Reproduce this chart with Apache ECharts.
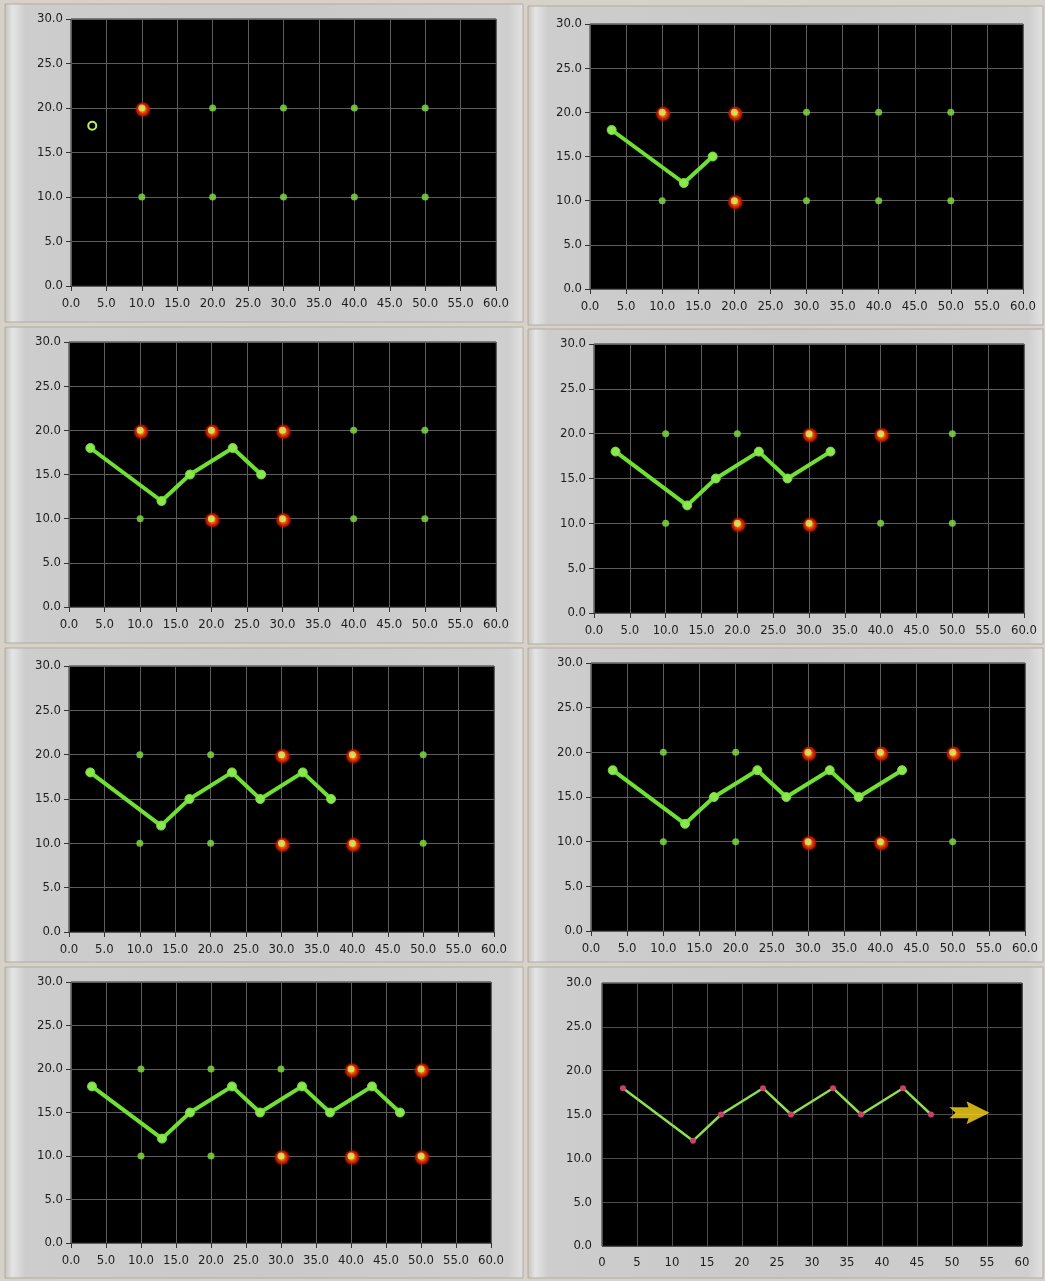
<!DOCTYPE html>
<html>
<head>
<meta charset="utf-8">
<title>Path through targets – 8 steps</title>
<script src="https://cdn.jsdelivr.net/npm/echarts@6/dist/echarts.min.js"></script>
<style>
  html, body { margin: 0; padding: 0; background: #d6d2ca; }
  #chart { width: 1045px; height: 1281px; }
</style>
</head>
<body>
<div id="chart"></div>
<script>
// ---- data ----
const pathX = [3, 13, 17, 23, 27, 33, 37, 43, 47];
const pathY = [18, 12, 15, 18, 15, 18, 15, 18, 15];
const targetX = [10, 20, 30, 40, 50];
const targetY = [20, 10];
// number of path vertices reached in each snapshot
const stepsShown = [1, 3, 5, 6, 7, 8, 9, 9];
// targets lit up (red) in each snapshot
const litTargets = [
  [[10, 20]],
  [[10, 20], [20, 20], [20, 10]],
  [[10, 20], [20, 20], [30, 20], [20, 10], [30, 10]],
  [[30, 20], [40, 20], [20, 10], [30, 10]],
  [[30, 20], [40, 20], [30, 10], [40, 10]],
  [[30, 20], [40, 20], [50, 20], [30, 10], [40, 10]],
  [[40, 20], [50, 20], [30, 10], [40, 10], [50, 10]],
  []
];
const arrowAt = [52.5, 15.2];
const xRange = [0, 60];
const yRange = [0, 30];
const tickStep = 5;

// ---- layout (plot areas and bezels, px) ----
const plotBoxes = [
  [71, 19, 425, 267], [590, 24, 433, 265],
  [69, 342, 427, 265], [594, 344, 430, 269],
  [69, 666, 425, 266], [591, 663, 434, 268],
  [71, 982, 420, 261], [602, 983, 420, 263]
];
const bezels = [
  [5, 4, 518, 318], [528, 6, 515, 319],
  [5, 327, 518, 316], [528, 329, 515, 315],
  [5, 648, 518, 314], [528, 648, 515, 314],
  [5, 967, 518, 311], [528, 967, 515, 311]
];

const FONT = '"DejaVu Sans Condensed", "DejaVu Sans", sans-serif';
const chart = echarts.init(document.getElementById('chart'), null, { renderer: 'canvas' });

const grids = [], xAxes = [], yAxes = [], series = [], graphics = [];

bezels.forEach(([x, y, w, h]) => {
  graphics.push({
    type: 'rect', silent: true, z: -10,
    shape: { x, y, width: w, height: h },
    style: {
      fill: {
        type: 'linear', x: 0, y: 0, x2: 1, y2: 0,
        colorStops: [
          { offset: 0, color: '#c4c2bd' },
          { offset: 0.015, color: '#e4e4e4' },
          { offset: 0.04, color: '#cdcdcd' },
          { offset: 0.5, color: '#c9c9c9' },
          { offset: 0.97, color: '#cfcfcf' },
          { offset: 1, color: '#e2e2e2' }
        ]
      },
      stroke: '#b2aca0', lineWidth: 1
    }
  });
});

const isLit = (lit, x, y) => lit.some(p => p[0] === x && p[1] === y);

plotBoxes.forEach(([left, top, width, height], i) => {
  const last = i === 7;
  grids.push({
    left, top, width, height,
    show: true, backgroundColor: '#000',
    borderColor: '#2b2b2b', borderWidth: 1, containLabel: false
  });
  xAxes.push({
    gridIndex: i, type: 'value', min: xRange[0], max: xRange[1], interval: tickStep,
    axisLine: { show: false },
    axisTick: { show: !last, inside: false, length: 5, lineStyle: { color: '#333', width: 1 } },
    axisLabel: {
      color: '#1e1e1e', fontFamily: FONT, fontSize: 13, margin: last ? 10 : 11,
      formatter: v => last ? String(v) : v.toFixed(1)
    },
    splitLine: { show: true, lineStyle: { color: last ? '#4e4e4e' : '#5c5c5c', width: 1 } }
  });
  yAxes.push({
    gridIndex: i, type: 'value', min: yRange[0], max: yRange[1], interval: tickStep,
    axisLine: { show: false },
    axisTick: { show: !last, inside: false, length: 5, lineStyle: { color: '#333', width: 1 } },
    axisLabel: {
      color: '#1e1e1e', fontFamily: FONT, fontSize: 13, margin: last ? 10 : 8,
      formatter: v => v.toFixed(1)
    },
    splitLine: { show: true, lineStyle: { color: last ? '#4e4e4e' : '#5c5c5c', width: 1 } }
  });

  const n = stepsShown[i];
  const pathData = pathX.slice(0, n).map((x, k) => [x, pathY[k]]);

  if (!last) {
    const lit = litTargets[i];
    // lit targets: glowing red discs under the green dots
    series.push({
      type: 'scatter', xAxisIndex: i, yAxisIndex: i, z: 2,
      symbol: 'circle', symbolSize: 14, symbolOffset: [1, 1.5],
      data: lit,
      itemStyle: {
        color: {
          type: 'radial', x: 0.5, y: 0.5, r: 0.5,
          colorStops: [
            { offset: 0, color: '#ffd040' },
            { offset: 0.42, color: '#ff7400' },
            { offset: 0.7, color: '#e82200' },
            { offset: 1, color: '#b01000' }
          ]
        },
        shadowColor: 'rgba(230,40,0,0.6)', shadowBlur: 3
      },
      silent: true
    });
    // target grid
    const targets = [];
    targetY.forEach(y => targetX.forEach(x => targets.push([x, y])));
    series.push({
      type: 'scatter', xAxisIndex: i, yAxisIndex: i, z: 3,
      symbol: 'circle', symbolSize: 7,
      data: targets.map(p => ({
        value: p,
        itemStyle: { color: isLit(lit, p[0], p[1]) ? '#d6f06a' : '#84e244' }
      })),
      silent: true
    });
    // path walked so far
    if (n === 1) {
      series.push({
        type: 'line', xAxisIndex: i, yAxisIndex: i, z: 4,
        data: pathData, symbol: 'circle', symbolSize: 8, showSymbol: true,
        itemStyle: { color: '#000', borderColor: '#bcec62', borderWidth: 2 },
        lineStyle: { width: 0 }, silent: true, animation: false
      });
    } else {
      series.push({
        type: 'line', xAxisIndex: i, yAxisIndex: i, z: 4,
        data: pathData, symbol: 'circle', symbolSize: 9, showSymbol: true,
        itemStyle: { color: '#8ae84e', borderColor: '#74dc3a', borderWidth: 1 },
        lineStyle: { color: '#70e034', width: 4 },
        silent: true, animation: false
      });
    }
  } else {
    // completed route
    series.push({
      type: 'line', xAxisIndex: i, yAxisIndex: i, z: 4,
      data: pathData, symbol: 'circle', symbolSize: 6, showSymbol: true,
      itemStyle: { color: '#c8406e' },
      lineStyle: { color: '#8ee04e', width: 2.5 },
      silent: true, animation: false
    });
    series.push({
      type: 'scatter', xAxisIndex: i, yAxisIndex: i, z: 5,
      symbol: 'path://M0,6 L19,6 L17,0 L40,11.5 L17,23 L19,17 L0,17 L6,11.5 Z',
      symbolSize: [40, 23], symbolKeepAspect: false,
      data: [arrowAt],
      itemStyle: { color: '#ffd818' },
      silent: true
    });
  }
});

chart.setOption({
  animation: false,
  backgroundColor: '#d6d2ca',
  textStyle: { fontFamily: FONT },
  grid: grids,
  xAxis: xAxes,
  yAxis: yAxes,
  series,
  graphic: graphics
});
</script>
</body>
</html>
